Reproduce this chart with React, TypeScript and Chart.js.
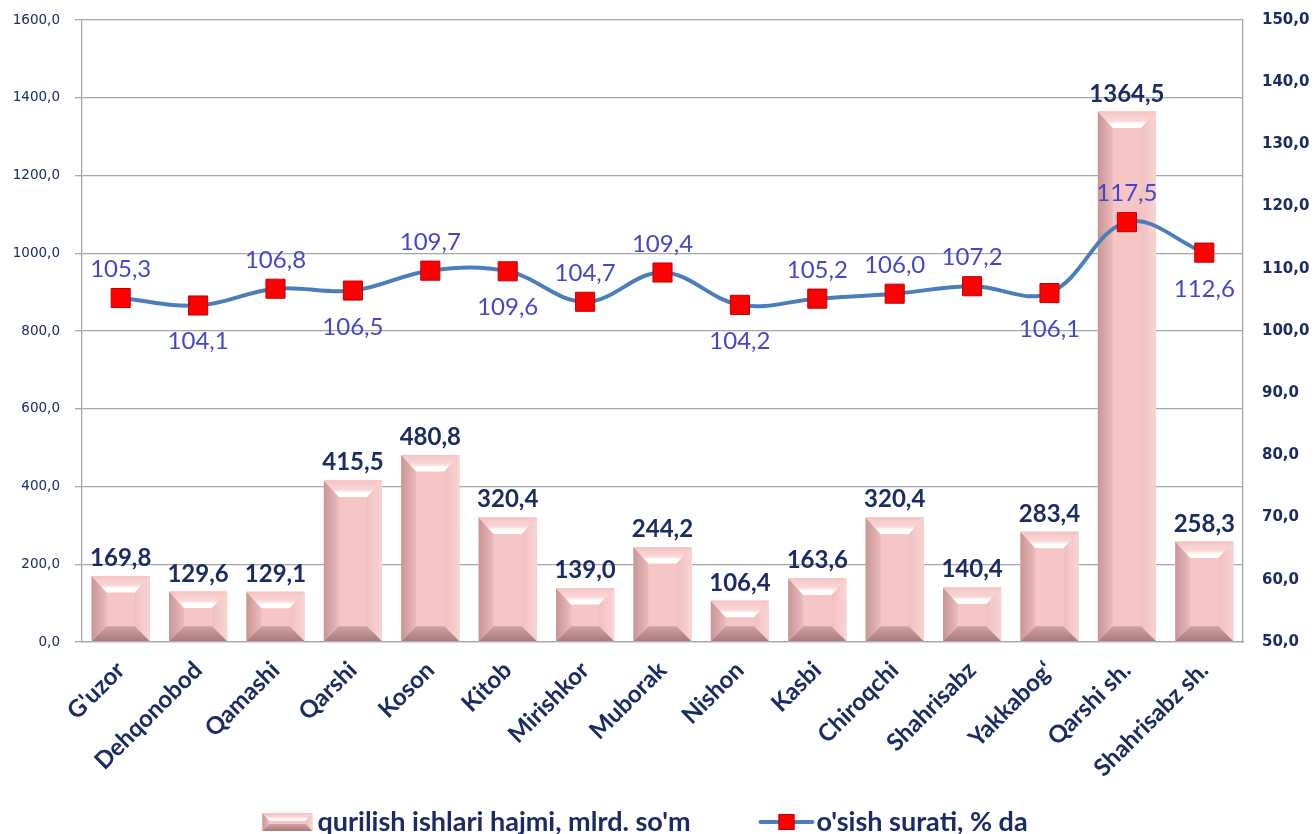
import React, { useEffect, useRef } from 'react';
import { Chart, registerables } from 'chart.js';

Chart.register(...registerables);

const categories = [
  "G'uzor", 'Dehqonobod', 'Qamashi', 'Qarshi', 'Koson', 'Kitob', 'Mirishkor', 'Muborak',
  'Nishon', 'Kasbi', 'Chiroqchi', 'Shahrisabz', 'Yakkabog‘', 'Qarshi sh.', 'Shahrisabz sh.',
];
const volume = [169.8, 129.6, 129.1, 415.5, 480.8, 320.4, 139.0, 244.2, 106.4, 163.6, 320.4, 140.4, 283.4, 1364.5, 258.3];
const growth = [105.3, 104.1, 106.8, 106.5, 109.7, 109.6, 104.7, 109.4, 104.2, 105.2, 106.0, 107.2, 106.1, 117.5, 112.6];
const growthLabelBelow = [false, true, false, true, false, true, false, false, true, false, false, false, true, false, true];
const volumeLabel = "qurilish ishlari hajmi, mlrd. so'm";
const growthLabel = "o'sish surati, % da";

const NAVY = '#1B2B63';
const LINE_BLUE = '#4A7EBB';
const LABEL_BLUE = '#4646C8';
const GRID = '#A6A6A6';
const FONT = 'Lato';

const fmt = (v: number) => v.toFixed(1).replace('.', ',');

function poly(ctx: CanvasRenderingContext2D, pts: number[][], fill: any) {
  ctx.beginPath();
  ctx.moveTo(pts[0][0], pts[0][1]);
  for (let i = 1; i < pts.length; i++) ctx.lineTo(pts[i][0], pts[i][1]);
  ctx.closePath();
  ctx.fillStyle = fill;
  ctx.fill();
}

function drawBevel(ctx: CanvasRenderingContext2D, l: number, t: number, r: number, btm: number, bSize: number) {
  const w = r - l;
  const h = btm - t;
  if (h <= 0 || w <= 0) return;
  const b = Math.min(bSize, h / 2.3, w / 3);
  const bt = Math.min(b * 1.1, h / 2);
  ctx.save();
  ctx.fillStyle = '#F6C6C6';
  ctx.fillRect(l, t, w, h);
  let g = ctx.createLinearGradient(l, 0, l + b, 0);
  g.addColorStop(0, '#C89595');
  g.addColorStop(1, '#EDBBBB');
  poly(ctx, [[l, t], [l + b, t + bt], [l + b, btm - b], [l, btm]], g);
  g = ctx.createLinearGradient(r - b, 0, r, 0);
  g.addColorStop(0, '#F1C0C0');
  g.addColorStop(1, '#F9D3D3');
  poly(ctx, [[r, t], [r - b, t + bt], [r - b, btm - b], [r, btm]], g);
  g = ctx.createLinearGradient(0, t, 0, t + bt);
  g.addColorStop(0, '#F4C4C4');
  g.addColorStop(0.55, '#FAD6D6');
  g.addColorStop(0.75, '#FFFFFF');
  g.addColorStop(1, '#FFFFFF');
  poly(ctx, [[l, t], [r, t], [r - b, t + bt], [l + b, t + bt]], g);
  g = ctx.createLinearGradient(0, btm - b, 0, btm);
  g.addColorStop(0, '#D0A1A1');
  g.addColorStop(1, '#A77B7B');
  poly(ctx, [[l, btm], [r, btm], [r - b, btm - b], [l + b, btm - b]], g);
  ctx.restore();
}

function drawLineMarker(ctx: CanvasRenderingContext2D, x: number, cy: number, w: number) {
  ctx.save();
  ctx.strokeStyle = LINE_BLUE;
  ctx.lineWidth = 4;
  ctx.lineCap = 'round';
  ctx.beginPath();
  ctx.moveTo(x + 2, cy);
  ctx.lineTo(x + w - 2, cy);
  ctx.stroke();
  ctx.fillStyle = '#FF0000';
  ctx.fillRect(x + w / 2 - 8, cy - 8, 16, 16);
  ctx.strokeStyle = '#C00000';
  ctx.lineWidth = 1;
  ctx.strokeRect(x + w / 2 - 7.5, cy - 7.5, 15, 15);
  ctx.restore();
}

const bevelPlugin = {
  id: 'bevelBars',
  afterDatasetDraw(chart: any, args: any) {
    if (args.index !== 0) return;
    const ctx = chart.ctx;
    const meta = chart.getDatasetMeta(0);
    meta.data.forEach((el: any) => {
      const p = el.getProps(['x', 'y', 'base', 'width'], true);
      drawBevel(ctx, p.x - p.width / 2, p.y, p.x + p.width / 2, p.base, 15);
    });
  },
};

const labelPlugin = {
  id: 'valueLabels',
  afterDatasetsDraw(chart: any) {
    const ctx = chart.ctx;
    ctx.save();
    ctx.textAlign = 'center';
    ctx.textBaseline = 'alphabetic';
    ctx.font = `bold 24px ${FONT}`;
    ctx.fillStyle = NAVY;
    chart.getDatasetMeta(0).data.forEach((el: any, i: number) => {
      ctx.fillText(fmt(volume[i]), el.x, el.y - 10);
    });
    ctx.font = `24px ${FONT}`;
    ctx.fillStyle = LABEL_BLUE;
    chart.getDatasetMeta(1).data.forEach((el: any, i: number) => {
      const below = growthLabelBelow[i];
      ctx.fillText(fmt(growth[i]), el.x, below ? el.y + 44 : el.y - 21);
    });
    ctx.restore();
  },
};

const legendPlugin = {
  id: 'customLegend',
  afterDraw(chart: any) {
    const ctx = chart.ctx;
    ctx.save();
    ctx.font = `bold 27px ${FONT}`;
    ctx.fillStyle = NAVY;
    ctx.textBaseline = 'alphabetic';
    ctx.textAlign = 'left';
    const w1 = ctx.measureText(volumeLabel).width;
    const w2 = ctx.measureText(growthLabel).width;
    const m1 = 50, m2 = 56, g1 = 5, g2 = 68, g3 = 2;
    const total = m1 + g1 + w1 + g2 + m2 + g3 + w2;
    let x = chart.width / 2 - 13 - total / 2;
    const baseline = chart.height - 3;
    const cy = baseline - 9;
    drawBevel(ctx, x, cy - 9, x + m1, cy + 9, 7);
    x += m1 + g1;
    ctx.fillText(volumeLabel, x, baseline);
    x += w1 + g2;
    drawLineMarker(ctx, x, cy, m2);
    x += m2 + g3;
    ctx.fillStyle = NAVY;
    ctx.fillText(growthLabel, x, baseline);
    ctx.restore();
  },
};

export default function App() {
  const ref = useRef<HTMLCanvasElement | null>(null);

  useEffect(() => {
    document.body.style.margin = '0';
    const chart = new Chart(ref.current!, {
      type: 'bar',
      data: {
        labels: categories,
        datasets: [
          {
            type: 'bar',
            label: volumeLabel,
            data: volume,
            yAxisID: 'y',
            order: 1,
            backgroundColor: '#F6C6C6',
            borderWidth: 0,
            barPercentage: 0.75,
            categoryPercentage: 1,
          } as any,
          {
            type: 'line',
            label: growthLabel,
            data: growth,
            yAxisID: 'y1',
            order: 0,
            borderColor: LINE_BLUE,
            borderWidth: 4,
            tension: 0.38,
            pointStyle: 'rect',
            pointRadius: 13.5,
            pointBackgroundColor: '#FF0000',
            pointBorderColor: '#C00000',
            pointBorderWidth: 1,
          } as any,
        ],
      },
      options: {
        responsive: false,
        animation: false,
        layout: { padding: { top: 20, left: 0, right: 0, bottom: 28 } },
        plugins: {
          tooltip: { enabled: false },
          legend: { display: false },
        },
        scales: {
          x: {
            offset: true,
            grid: { display: false, drawTicks: false },
            border: { display: true, color: GRID, width: 1.3 },
            ticks: {
              autoSkip: false,
              maxRotation: 45,
              minRotation: 45,
              padding: 14,
              color: NAVY,
              font: { family: FONT, size: 24, weight: 'bold' },
            },
            afterFit: (s: any) => {
              s.height = 164;
            },
          },
          y: {
            position: 'left',
            min: 0,
            max: 1600,
            grid: { color: GRID, lineWidth: 1.3, tickLength: 7, drawTicks: true },
            border: { display: true, color: GRID, width: 1.3 },
            ticks: {
              stepSize: 200,
              padding: 15,
              color: NAVY,
              font: { family: 'DejaVu Sans', size: 13.5 },
              callback: (v: any) => fmt(Number(v)),
            },
            afterFit: (s: any) => {
              s.width = 82;
              s.paddingTop = 8;
              s.paddingBottom = 8;
            },
          },
          y1: {
            position: 'right',
            min: 50,
            max: 150,
            grid: { display: false, drawOnChartArea: false, drawTicks: false },
            border: { display: true, color: GRID, width: 1.3 },
            ticks: {
              stepSize: 10,
              padding: 19,
              color: NAVY,
              font: { family: 'DejaVu Sans', size: 15, weight: 'bold' },
              callback: (v: any) => fmt(Number(v)),
            },
            afterFit: (s: any) => {
              s.width = 73;
              s.paddingTop = 8;
              s.paddingBottom = 8;
            },
          },
        },
      } as any,
      plugins: [bevelPlugin, labelPlugin, legendPlugin],
    });
    return () => chart.destroy();
  }, []);

  return (
    <div style={{ position: 'fixed', left: 0, top: 0, width: 1316, height: 834, background: '#fff' }}>
      <canvas ref={ref} width={1316} height={834} />
    </div>
  );
}
